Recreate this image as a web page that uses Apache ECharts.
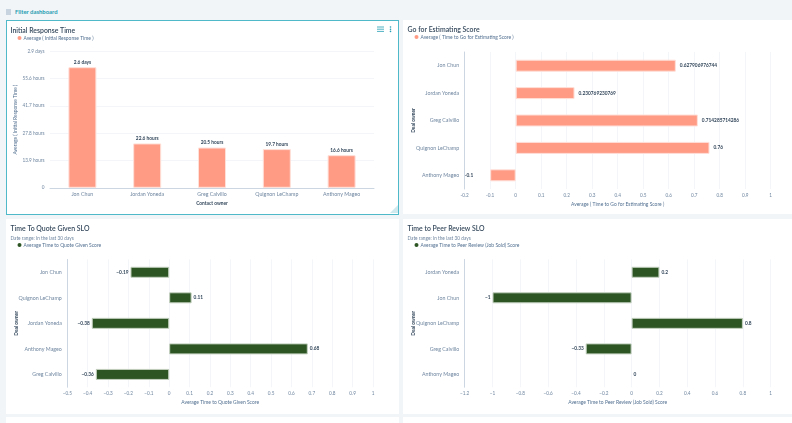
<!DOCTYPE html>
<html>
<head>
<meta charset="utf-8">
<script src="https://cdn.jsdelivr.net/npm/echarts@6/dist/echarts.min.js"></script>
<style>
	html, body { margin: 0; padding: 0; width: 792px; height: 423px; overflow: hidden; background: #f1f5f8; font-family: Lato, sans-serif; }
	.card { position: absolute; background: #fff; box-sizing: border-box; }
	.selected { border: 1.5px solid #4fb9ca; }
	.chart { position: absolute; left: 0; top: 0; width: 100%; height: 100%; }
	.filter { position: absolute; left: 15px; top: 7px; font-size: 5.9px; line-height: 9px; font-weight: 700; color: #1f9db3; }
	.icon { position: absolute; }
</style>
</head>
<body>
<!-- 筛选栏 -->
<svg class="icon" style="left:6px;top:9px" width="5" height="6"><path d="M0 1h5M0 3h5M0 5h5" stroke="#8ba3bb" stroke-width="0.800"/></svg>
<div class="filter">Filter dashboard</div>

<div class="card selected" style="left:5.500px;top:20px;width:393.500px;height:194.500px"><div class="chart" id="chart1"></div></div>
<div class="card" style="left:403px;top:20px;width:389px;height:194px"><div class="chart" id="chart2"></div></div>
<div class="card" style="left:6px;top:219px;width:393px;height:195px"><div class="chart" id="chart3"></div></div>
<div class="card" style="left:403px;top:219px;width:389px;height:195px"><div class="chart" id="chart4"></div></div>
<div class="card" style="left:6px;top:417px;width:393px;height:6px"></div>
<div class="card" style="left:403px;top:417px;width:389px;height:6px"></div>

<!-- 选中卡片右上角图标 -->
<svg class="icon" style="left:377px;top:26px" width="7" height="7"><path d="M0 1h7M0 3.200h7M0 5.400h7" stroke="#1f9db3" stroke-width="0.800"/></svg>
<svg class="icon" style="left:389px;top:26px" width="3" height="7"><circle cx="1.500" cy="1" r="0.800" fill="#1f9db3"/><circle cx="1.500" cy="3.200" r="0.800" fill="#1f9db3"/><circle cx="1.500" cy="5.400" r="0.800" fill="#1f9db3"/></svg>
<svg class="icon" style="left:390px;top:205px" width="8" height="8"><path d="M8 0L8 8L0 8Z" fill="#cfe9ee"/></svg>

<script type="text/javascript">
	var SALMON = '#ff9b85';
	var GREEN = '#2d5524';

	// 首次响应时间（小时）
	var responseNames = ['Jon Chun', 'Jordan Yoneda', 'Greg Calvillo', 'Quignon LeChamp', 'Anthony Mageo'];
	var responseHours = [61.4, 22.6, 20.5, 19.7, 16.6];
	var responseLabels = ['2.6 days', '22.6 hours', '20.5 hours', '19.7 hours', '16.6 hours'];
	var responseTicks = ['0', '13.9 hours', '27.8 hours', '41.7 hours', '55.6 hours', '2.9 days'];

	var estimateNames = ['Jon Chun', 'Jordan Yoneda', 'Greg Calvillo', 'Quignon LeChamp', 'Anthony Mageo'];
	var estimateScores = [0.627906976744, 0.230769230769, 0.714285714286, 0.76, -0.1];
	var estimateLabels = ['0.627906976744', '0.230769230769', '0.714285714286', '0.76', '-0.1'];
	var estimateTicks = ['-0.2', '-0.1', '0', '0.1', '0.2', '0.3', '0.4', '0.5', '0.6', '0.7', '0.8', '0.9', '1'];

	var quoteNames = ['Jon Chun', 'Quignon LeChamp', 'Jordan Yoneda', 'Anthony Mageo', 'Greg Calvillo'];
	var quoteScores = [-0.19, 0.11, -0.38, 0.68, -0.36];
	var quoteLabels = ['−0.19', '0.11', '−0.38', '0.68', '−0.36'];
	var quoteTicks = ['−0.5', '−0.4', '−0.3', '−0.2', '−0.1', '0', '0.1', '0.2', '0.3', '0.4', '0.5', '0.6', '0.7', '0.8', '0.9', '1'];

	var peerNames = ['Jordan Yoneda', 'Jon Chun', 'Quignon LeChamp', 'Greg Calvillo', 'Anthony Mageo'];
	var peerScores = [0.2, -1, 0.8, -0.33, 0];
	var peerLabels = ['0.2', '−1', '0.8', '−0.33', '0'];
	var peerTicks = ['−1.2', '−1', '−0.8', '−0.6', '−0.4', '−0.2', '0', '0.2', '0.4', '0.6', '0.8', '1'];

	var FONT = 'Lato, sans-serif';
	var TICK_COLOR = '#6f86a0';
	var boldName = { color: '#33475b', fontSize: 4.8, fontWeight: 'bold', fontFamily: FONT };
	var greyName = { color: '#516f90', fontSize: 4.95, fontFamily: FONT };

	function titleOf(text, subtext, left) {
		return {
			text: text, subtext: subtext || '', left: left, top: 6, itemGap: 3.500, padding: 0,
			textStyle: { color: '#33475b', fontSize: 6.9, fontWeight: 600, fontFamily: FONT },
			subtextStyle: { color: '#6f86a0', fontSize: 4.75, fontFamily: FONT }
		};
	}

	function legendOf(name, left, top) {
		return {
			data: [name], left: left, top: top, padding: 0, itemWidth: 4, itemHeight: 4, itemGap: 0, icon: 'circle',
			selectedMode: false,
			itemStyle: { borderWidth: 0 },
			textStyle: { color: '#516f90', fontSize: 4.95, fontFamily: FONT, padding: [0, 0, 0, -3] }
		};
	}

	// 横向条形图，三张卡片共用
	function horizontal(el, cfg) {
		var chart = echarts.init(document.getElementById(el));
		chart.setOption({
			animation: false,
			title: titleOf(cfg.title, cfg.subtitle, 4.500),
			legend: legendOf(cfg.series, 11.500, cfg.legendTop),
			grid: cfg.grid,
			xAxis: {
				type: 'value', min: cfg.min, max: 1, interval: cfg.interval,
				name: cfg.series, nameLocation: 'middle', nameGap: 12.800, nameMoveOverlap: false, nameTextStyle: greyName,
				axisLine: { show: false }, axisTick: { show: false },
				splitLine: { lineStyle: { color: '#f1f3f6', width: 0.800 } },
				axisLabel: { margin: 4, fontSize: 4.7, color: TICK_COLOR, fontFamily: FONT, formatter: function (v, i) { return cfg.ticks[i]; } }
			},
			yAxis: {
				type: 'category', inverse: true, data: cfg.names,
				name: 'Deal owner', nameLocation: 'middle', nameRotate: 90, nameGap: cfg.nameGap, nameMoveOverlap: false, nameTextStyle: boldName,
				axisLine: { onZero: false, lineStyle: { color: '#cbd6e2', width: 1 } }, axisTick: { show: false },
				axisLabel: { margin: 5.500, fontSize: 5.3, color: TICK_COLOR, fontFamily: FONT }
			},
			series: [{
				name: cfg.series, type: 'bar', barWidth: cfg.barWidth,
				data: cfg.values.map(function (v, i) {
					return {
						value: v,
						itemStyle: { borderWidth: v === 0 ? 0 : 1 },
						label: {
							position: v < 0 ? 'left' : 'right',
							distance: v < 0 ? (cfg.negGap || 2) : cfg.posGap,
							formatter: cfg.labels[i]
						}
					};
				}),
				itemStyle: { color: cfg.color, borderColor: cfg.border },
				label: { show: true, color: '#33475b', fontSize: 4.8, fontWeight: 'bold', fontFamily: FONT }
			}]
		});
	}

	var chart1 = echarts.init(document.getElementById('chart1'));
	chart1.setOption({
		animation: false,
		title: titleOf('Initial Response Time', '', 3.500),
		legend: legendOf('Average ( Initial Response Time )', 10.500, 14.500),
		grid: { outerBoundsMode: 'none', left: 43, top: 30.300, width: 324, height: 136.500 },
		xAxis: {
			type: 'category', data: responseNames,
			name: 'Contact owner', nameLocation: 'middle', nameGap: 13.200, nameMoveOverlap: false, nameTextStyle: boldName,
			axisLine: { lineStyle: { color: '#cbd6e2', width: 1 } }, axisTick: { show: false },
			axisLabel: { margin: 4, fontSize: 5.3, color: TICK_COLOR, fontFamily: FONT }
		},
		yAxis: {
			type: 'value', min: 0, max: 69.5, interval: 13.9,
			name: 'Average ( Initial Response Time )', nameLocation: 'middle', nameRotate: 90, nameGap: 32, nameMoveOverlap: false, nameTextStyle: greyName,
			axisLine: { show: false }, axisTick: { show: false },
			splitLine: { lineStyle: { color: '#f1f3f6', width: 0.800 } },
			axisLabel: { margin: 5.500, fontSize: 4.7, color: TICK_COLOR, fontFamily: FONT, formatter: function (v, i) { return responseTicks[i]; } }
		},
		series: [{
			name: 'Average ( Initial Response Time )', type: 'bar', barWidth: 28,
			data: responseHours.map(function (v, i) {
				return { value: v, label: { formatter: responseLabels[i] } };
			}),
			itemStyle: { color: SALMON, borderColor: '#ffe0d9', borderWidth: 1 },
			label: { show: true, position: 'top', distance: 2.500, color: '#33475b', fontSize: 4.8, fontWeight: 'bold', fontFamily: FONT }
		}]
	});

	horizontal('chart2', {
		title: 'Go for Estimating Score', series: 'Average ( Time to Go for Estimating Score )',
		legendTop: 14.500, names: estimateNames, values: estimateScores, labels: estimateLabels, ticks: estimateTicks,
		min: -0.2, interval: 0.1, grid: { outerBoundsMode: 'none', left: 61.700, top: 32, width: 306, height: 137 },
		nameGap: 49, barWidth: 12, color: SALMON, border: '#ffe0d9', posGap: 4, negGap: 17
	});
	horizontal('chart3', {
		title: 'Time To Quote Given SLO', subtitle: 'Date range: In the last 30 days', series: 'Average Time to Quote Given Score',
		legendTop: 23.500, names: quoteNames, values: quoteScores, labels: quoteLabels, ticks: quoteTicks,
		min: -0.5, interval: 0.1, grid: { outerBoundsMode: 'none', left: 61.300, top: 40.500, width: 305.700, height: 127.700 },
		nameGap: 48.600, barWidth: 11, color: GREEN, border: '#c3d0be', posGap: 2
	});
	horizontal('chart4', {
		title: 'Time to Peer Review SLO', subtitle: 'Date range: In the last 30 days', series: 'Average Time to Peer Review (Job Sold) Score',
		legendTop: 23.500, names: peerNames, values: peerScores, labels: peerLabels, ticks: peerTicks,
		min: -1.2, interval: 0.2, grid: { outerBoundsMode: 'none', left: 61.700, top: 40.500, width: 306, height: 127.700 },
		nameGap: 49, barWidth: 11, color: GREEN, border: '#c3d0be', posGap: 2
	});
</script>
</body>
</html>
